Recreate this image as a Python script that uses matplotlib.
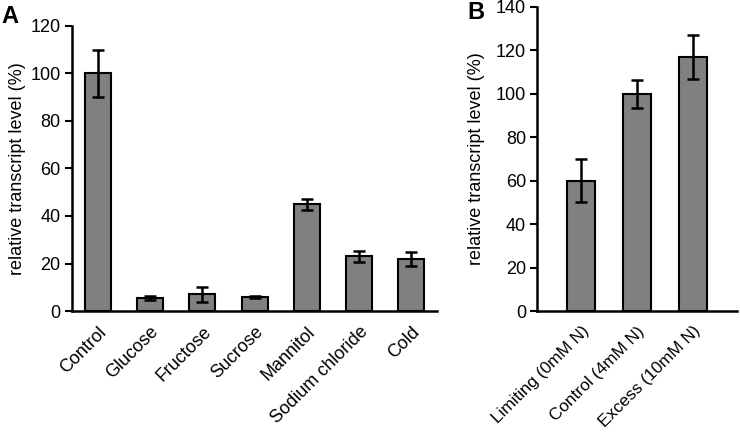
import matplotlib.pyplot as plt

plt.rcParams['font.family'] = ['Liberation Sans', 'DejaVu Sans']

# ====================== data ======================
cats_a = ["Control", "Glucose", "Fructose", "Sucrose", "Mannitol", "Sodium chloride", "Cold"]
vals_a = [100, 5.5, 7, 6, 45, 23, 22]
err_a = [10, 1, 3, 0.5, 2.3, 2.3, 3]

cats_b = ["Limiting (0mM N)", "Control (4mM N)", "Excess (10mM N)"]
vals_b = [60, 100, 117]
err_b = [10, 6.5, 10]

BAR_COLOR = "#808080"
FS = 13

fig = plt.figure(figsize=(7.4, 4.32), dpi=100)
ax_a = fig.add_axes([0.097, 0.28, 0.494, 0.66])
ax_b = fig.add_axes([0.726, 0.28, 0.27, 0.704])


def style(ax, cats, vals, errs, ymax, xlim, xfs):
    x = range(len(cats))
    ax.bar(x, vals, width=0.5, color=BAR_COLOR, edgecolor="black", linewidth=1.5, zorder=2)
    ax.errorbar(x, vals, yerr=errs, fmt="none", ecolor="black", elinewidth=1.8,
                capsize=4, capthick=1.8, zorder=3)
    ax.set_xlim(*xlim)
    ax.set_ylim(0, ymax)
    ax.set_yticks(range(0, ymax + 1, 20))
    ax.set_xticks(list(x))
    ax.set_xticklabels(cats, rotation=45, ha="right", rotation_mode="anchor", fontsize=xfs)
    ax.tick_params(axis="x", length=0, pad=9)
    ax.tick_params(axis="y", direction="out", length=5, width=1.5, labelsize=FS, pad=3)
    for s in ["top", "right"]:
        ax.spines[s].set_visible(False)
    for s in ["left", "bottom"]:
        ax.spines[s].set_linewidth(1.8)
    ax.set_ylabel("relative transcript level (%)", fontsize=FS)


style(ax_a, cats_a, vals_a, err_a, 120, (-0.5, 6.5), FS)
style(ax_b, cats_b, vals_b, err_b, 140, (-0.79, 2.79), 12.3)

ax_a.yaxis.set_label_coords(-0.124, 0.5)
ax_b.yaxis.set_label_coords(-0.26, 0.5)

fig.text(0.002, 0.962, "A", fontsize=17, fontweight="bold", va="center")
fig.text(0.631, 0.972, "B", fontsize=17, fontweight="bold", va="center")

fig.savefig("out.png", dpi=100)
